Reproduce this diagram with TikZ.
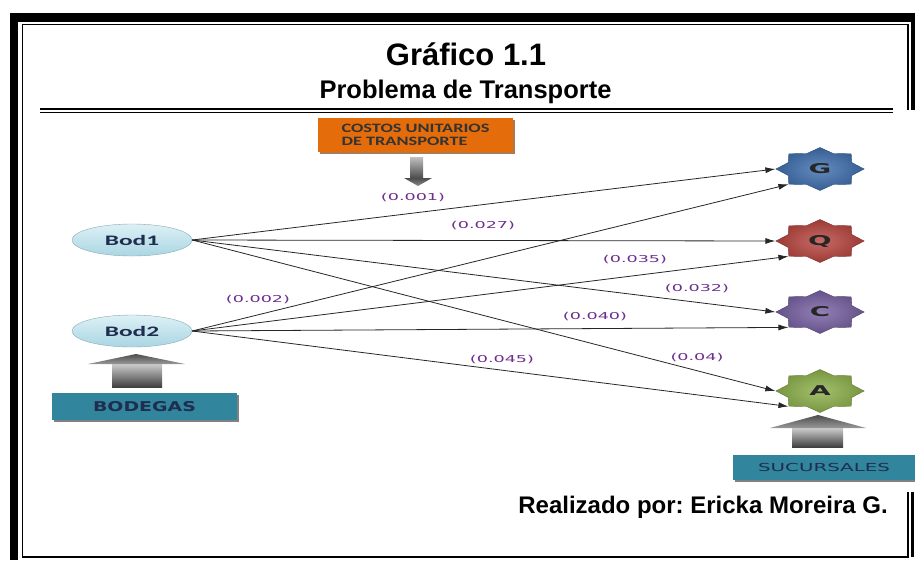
\documentclass[tikz,border=0pt]{standalone}
\usepackage{fontspec}
\setmainfont{Liberation Sans}
\newfontfamily\calfont{Carlito}
\newfontfamily\dvfont{DejaVu Sans}
\usetikzlibrary{arrows.meta,shapes.geometric,shadows,calc}
\newcommand{\sx}[2]{\scalebox{#1}[1]{#2}}
\definecolor{orng}{HTML}{E46C0A}
\definecolor{tealbx}{HTML}{31859C}
\definecolor{navytx}{HTML}{1F2D4E}
\definecolor{lblc}{HTML}{6E2E8E}
\definecolor{starG}{HTML}{3F6FAE}
\definecolor{starQ}{HTML}{B8453F}
\definecolor{starC}{HTML}{7660A2}
\definecolor{starA}{HTML}{8DB04B}
\definecolor{bodtop}{HTML}{DDF0F5}
\definecolor{bodbot}{HTML}{A9D6E3}
\frenchspacing
\begin{document}
\begin{tikzpicture}[x=1pt,y=-1pt,
  framebar/.style={fill=black,draw=none},
  frameline/.style={line width=1.2pt,black},
  bodnode/.style={ellipse,minimum width=120pt,minimum height=32pt,inner sep=0pt,
    top color=bodtop,bottom color=bodbot,draw=bodbot!80!black,line width=0.4pt,
    font=\calfont\bfseries\fontsize{14.5}{14.5}\selectfont,text=navytx},
  starnode/.style={star,star points=8,star point ratio=1.28,minimum size=43pt,inner sep=0pt,
    xscale=2.05,inner color=#1!80!white,outer color=#1!85!black,draw=#1!70!black,line width=0.4pt,
    font=\dvfont\bfseries\fontsize{13.5}{13.5}\selectfont,text=black!85},
  tealbox/.style={rectangle,fill=tealbx,draw=none,inner sep=0pt,
    drop shadow={shadow xshift=1.5pt,shadow yshift=-1.5pt,opacity=0.7,fill=black!70}},
  lbl/.style={font=\dvfont\fontsize{9.5}{9.5}\selectfont,text=lblc,inner sep=0pt},
  edge/.style={draw=black!85,line width=0.8pt,-{Latex[length=10pt,width=6pt]}},
]
\useasboundingbox (0,0) rectangle (915,560);
% page frame
\fill[framebar] (10,13) rectangle (915,22);
\fill[framebar] (10,13) rectangle (18,560);
\fill[framebar] (911,13) rectangle (914.5,110);
\fill[framebar] (911,492) rectangle (914,557);
\draw[frameline] (22.5,557) -- (22.5,24.5) -- (908,24.5) -- (908,110);
\draw[frameline] (22,557) -- (908,557) -- (908,492);
% title
\node[anchor=base,inner sep=0pt,font=\bfseries\fontsize{31}{31}\selectfont] (title) at (466,65) {Gráfico 1.1};
\node[anchor=base,inner sep=0pt,font=\bfseries\fontsize{25.5}{25.5}\selectfont] (subtitle) at (465.5,98) {Problema de Transporte};
\draw[line width=2pt] (40,108.5) -- (893,108.5);
\draw[line width=1pt] (40,112) -- (893,112);
% costos box
\node[rectangle,fill=orng,inner sep=0pt,minimum width=195pt,minimum height=34pt,
  drop shadow={shadow xshift=1.5pt,shadow yshift=-1.5pt,opacity=0.7,fill=orng!60!black},
  align=left,font=\calfont\bfseries\fontsize{12.8}{13}\selectfont,text=black!80] (costos) at (415.5,135)
  {\sx{1.43}{COSTOS UNITARIOS}\\\sx{1.43}{DE TRANSPORTE}};
\shade[top color=black!25,bottom color=black!70] (410,157) rectangle (423,178);
\shade[top color=black!70,bottom color=black!45] (404,178) -- (432,178) -- (418,186) -- cycle;
% bodegas
\node[bodnode] (Bod1) at (132,240) {\sx{1.75}{Bod1}};
\node[bodnode] (Bod2) at (132,331) {\sx{1.75}{Bod2}};
\shade[top color=black!20,bottom color=black!75] (112,364) rectangle (162,387);
\shade[top color=black!70,bottom color=black!40] (88,364) -- (136,354) -- (185,364) -- cycle;
\node[tealbox,minimum width=185pt,minimum height=27pt,
  font=\dvfont\bfseries\fontsize{13.5}{13.5}\selectfont,text=navytx] (bodegas) at (144.5,406.5) {\sx{1.4}{BODEGAS}};
% sucursales
\node[starnode=starG] (G) at (820,169) {G};
\node[starnode=starQ] (Q) at (820,241) {Q};
\node[starnode=starC] (C) at (820,312) {C};
\node[starnode=starA] (A) at (820,391) {A};
\shade[top color=black!20,bottom color=black!75] (792,428) rectangle (843,447);
\shade[top color=black!70,bottom color=black!40] (770,428) -- (818,415) -- (866,428) -- cycle;
\node[tealbox,minimum width=182pt,minimum height=25pt,
  font=\dvfont\fontsize{11}{11}\selectfont,text=navytx] (sucursales) at (824,467.5) {\sx{1.8}{SUCURSALES}};
% edges
\draw[edge] (Bod1.east) -- (G.west);
\draw[edge] (Bod1.east) -- (Q.west);
\draw[edge] (Bod1.east) -- (C.west);
\draw[edge] (Bod1.east) -- (A.west);
\draw[edge] (Bod2.east) -- (G.south west);
\draw[edge] (Bod2.east) -- (Q.south west);
\draw[edge] (Bod2.east) -- (C.south west);
\draw[edge] (Bod2.east) -- (A.south west);
% cost labels
\node[lbl] (l1) at (413,198) {\sx{1.85}{(0.001)}};
\node[lbl] (l2) at (483,226) {\sx{1.85}{(0.027)}};
\node[lbl] (l3) at (635,260) {\sx{1.85}{(0.035)}};
\node[lbl] (l4) at (697,289) {\sx{1.85}{(0.032)}};
\node[lbl] (l5) at (258,300) {\sx{1.85}{(0.002)}};
\node[lbl] (l6) at (595,317) {\sx{1.85}{(0.040)}};
\node[lbl] (l7) at (502,360) {\sx{1.85}{(0.045)}};
\node[lbl] (l8) at (697,358) {\sx{1.85}{(0.04)}};
% author
\node[anchor=base east,inner sep=0pt,font=\bfseries\fontsize{24}{24}\selectfont] (author) at (888,513) {Realizado por: Ericka Moreira G.};
\end{tikzpicture}
\end{document}
